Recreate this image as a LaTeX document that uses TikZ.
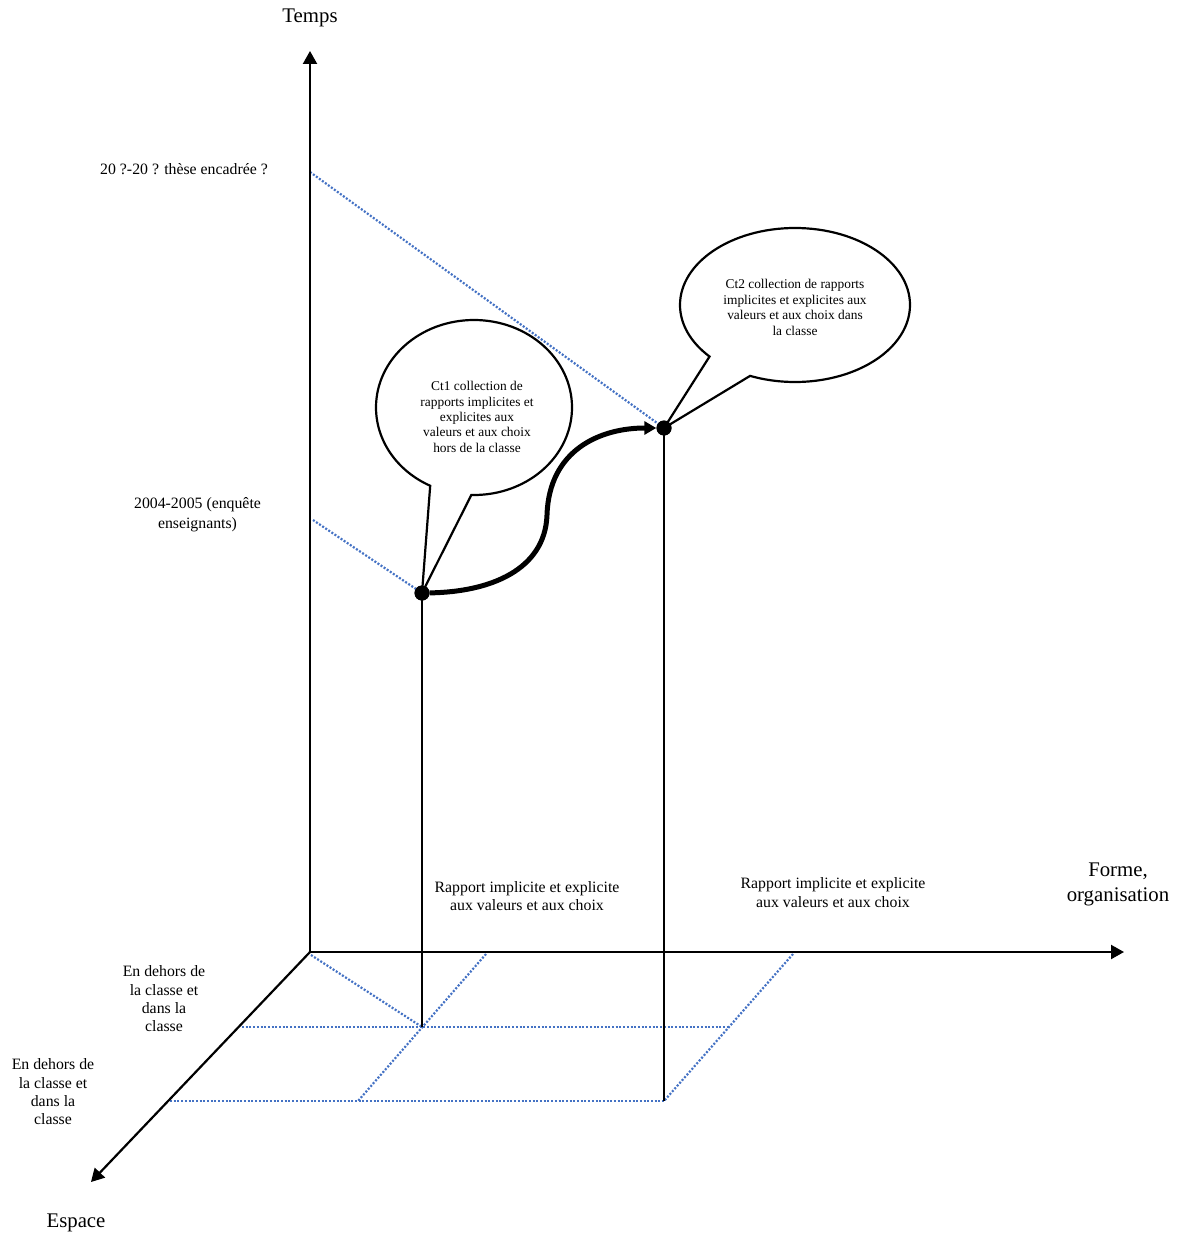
\documentclass[tikz,border=0pt]{standalone}
\usepackage{fontspec}
\setmainfont{Liberation Serif}
\usetikzlibrary{arrows.meta,shapes.callouts}
\definecolor{dotblue}{RGB}{68,114,196}
\begin{document}
\begin{tikzpicture}[x=1pt,y=-1pt,
  axis/.style={line width=2.2pt,-{Triangle[length=13pt,width=14pt]}},
  guide/.style={draw=dotblue,line width=2.2pt,dash pattern=on 2pt off 1.7pt},
  stem/.style={line width=2.2pt},
  dotnode/.style={circle,fill=black,inner sep=0pt,minimum size=15pt},
  bubble/.style={ellipse callout,draw,line width=2.2pt,fill=white,inner sep=0pt,callout pointer arc=25},
  lbl/.style={align=center,font=\fontsize{15.8}{18.3}\selectfont,inner sep=0pt},
  axlbl/.style={align=center,font=\fontsize{20.8}{25}\selectfont,inner sep=0pt},
  btxt/.style={align=center,font=\fontsize{13.4}{15.4}\selectfont,inner sep=0pt},
  flow/.style={line width=5pt,-{Triangle[length=12pt,width=13pt]}}]
\useasboundingbox (0,0) rectangle (1181,1238);

% axes
\coordinate (O) at (310,952);
\coordinate (tT) at (310,51);
\coordinate (tF) at (1124,952);
\coordinate (tE) at (91,1182);

% key points
\coordinate (h1) at (310,172);
\coordinate (h2) at (313,520);
\coordinate (g1) at (422,1027);
\coordinate (g2) at (664,1101);
\coordinate (a1) at (486,954);
\coordinate (a2) at (358,1101);
\coordinate (bb1) at (793,954);
\coordinate (r1) at (242,1027);
\coordinate (r2) at (728,1027);
\coordinate (s1) at (170,1101);
\coordinate (o1) at (311,955);

\node[dotnode] (c1) at (422,593) {};
\node[dotnode] (c2) at (664,428) {};

% dotted guides
\draw[guide] (h1) -- (c2.center);
\draw[guide] (h2) -- (c1.center);
\draw[guide] (o1) -- (g1);
\draw[guide] (a1) -- (a2);
\draw[guide] (bb1) -- (g2);
\draw[guide] (r1) -- (r2);
\draw[guide] (s1) -- (g2);

% axes
\draw[axis] (O) -- (tT);
\draw[axis] (O) -- (tF);
\draw[axis] (O) -- (tE);

% bubbles
\node[bubble,minimum width=196pt,minimum height=175pt,callout absolute pointer={(c1.center)}] (b1) at (474,407.5) {};
\node[bubble,minimum width=230pt,minimum height=154pt,callout absolute pointer={(c2.center)}] (b2) at (795,305) {};

% stems
\draw[stem] (g1) -- (c1.center);
\draw[stem] (g2) -- (c2.center);

% flow curve
\draw[flow] (c1) .. controls (490,592) and (545,570) .. (547,515) .. controls (549,450) and (600,428) .. (c2);

\node[dotnode] at (c1.center) {};
\node[dotnode] at (c2.center) {};

% bubble texts
\node[btxt] (b1t) at (477,417) {Ct1 collection de\\rapports implicites et\\explicites aux\\valeurs et aux choix\\hors de la classe};
\node[btxt] (b2t) at (795,307.5) {Ct2 collection de rapports\\implicites et explicites aux\\valeurs et aux choix dans\\la classe};

% labels
\node[axlbl] (temps) at (310,18) {Temps};
\node[axlbl] (forme) at (1118,884) {Forme,\\organisation};
\node[axlbl] (espace) at (76,1223) {Espace};
\node[lbl] (lt2) at (184,169) {20 ?-20 ? thèse encadrée ?};
\node[lbl] (lt1) at (197.5,515) {2004-2005 (enquête\\[1.7pt]enseignants)};
\node[lbl] (lr1) at (527,896) {Rapport implicite et explicite\\aux valeurs et aux choix};
\node[lbl] (lr2) at (833,892.5) {Rapport implicite et explicite\\aux valeurs et aux choix};
\node[lbl] (le1) at (164,999) {En dehors de\\la classe et\\dans la\\classe};
\node[lbl] (le2) at (53,1092) {En dehors de\\la classe et\\dans la\\classe};
\end{tikzpicture}
\end{document}
